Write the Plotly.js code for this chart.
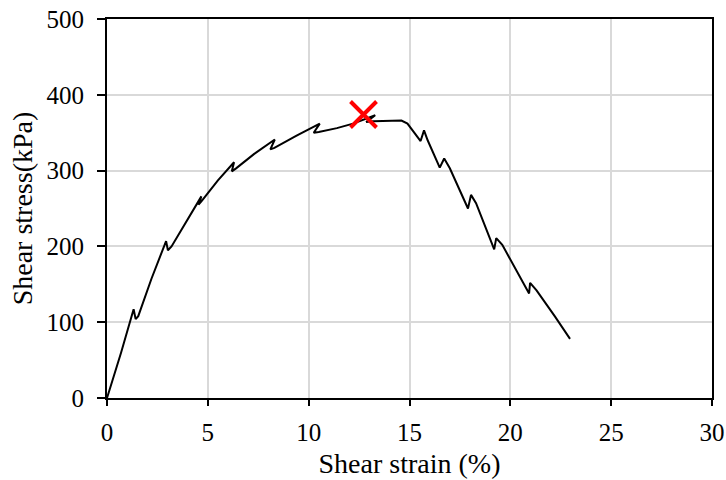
<!DOCTYPE html>
<html>
<head>
<meta charset="utf-8">
<script src="https://cdn.plot.ly/plotly-3.0.1.min.js"></script>
<style>html,body{margin:0;padding:0;background:#fff;}#chart{width:726px;height:480px;}</style>
</head>
<body>
<div id="chart"></div>
<script>
var strain = [0, 0.7, 1.32, 1.42, 1.55, 2.2, 2.93, 3.02, 3.2, 3.9, 4.68, 4.54, 4.7, 5.5, 6.3, 6.19, 6.4, 7.3, 8.32, 8.1, 8.3, 9.4, 10.55, 10.25, 10.5, 11.4, 12.2, 13.3, 12.85, 13.2, 14.0, 14.6, 14.9, 15.2, 15.55, 15.72, 15.9, 16.5, 16.72, 17.0, 17.9, 18.05, 18.3, 19.2, 19.3, 19.6, 20.93, 20.98, 21.3, 22.2, 22.96];
var stress = [0, 60, 117, 104, 108, 157, 207, 195, 200, 232, 266, 255, 260, 287, 311, 299, 303, 322, 341, 328, 330, 346, 362, 350, 351, 356, 362, 373, 364, 365, 366, 366, 362, 352, 339, 353, 340, 304, 316, 303, 250, 268, 257, 196, 211, 202, 138, 152, 142, 108, 78];
var peakStrain = [12.72];
var peakStress = [374];

var traces = [
  {x: strain, y: stress, type: 'scatter', mode: 'lines', line: {color: '#000', width: 2}, hoverinfo: 'skip'},
  {x: peakStrain, y: peakStress, type: 'scatter', mode: 'markers', marker: {symbol: 'x-thin', size: 26, line: {color: '#ff0000', width: 4}}}
];
var fontFam = '"Liberation Serif", "Times New Roman", serif';
var layout = {
  width: 726, height: 480,
  margin: {l: 107, r: 14, t: 19, b: 82},
  showlegend: false,
  paper_bgcolor: '#fff', plot_bgcolor: '#fff',
  font: {family: fontFam, color: '#000', size: 25},
  xaxis: {
    range: [0, 30], tickvals: [0, 5, 10, 15, 20, 25, 30], ticktext: ['0','5','10','15','20','25','30'],
    showgrid: true, gridcolor: '#d9d9d9', gridwidth: 2,
    showline: true, linecolor: '#000', linewidth: 2, mirror: true,
    ticks: 'outside', ticklen: 6, tickwidth: 2, tickcolor: '#000',
    ticklabelstandoff: 5,
    zeroline: false, tickfont: {family: fontFam, size: 25, color: '#000'},
    title: {text: 'Shear strain (%)', font: {family: fontFam, size: 28, color: '#000'}, standoff: 8}
  },
  yaxis: {
    range: [0, 500], tickvals: [0, 100, 200, 300, 400, 500], ticktext: ['0','100','200','300','400','500'],
    showgrid: true, gridcolor: '#d9d9d9', gridwidth: 2,
    showline: true, linecolor: '#000', linewidth: 2, mirror: true,
    ticks: 'outside', ticklen: 8, tickwidth: 2, tickcolor: '#000',
    ticklabelstandoff: 8,
    zeroline: false, tickfont: {family: fontFam, size: 25, color: '#000'},
    title: {text: 'Shear stress(kPa)', font: {family: fontFam, size: 28, color: '#000'}, standoff: 6}
  }
};
Plotly.newPlot('chart', traces, layout, {displayModeBar: false, staticPlot: true});
</script>
</body>
</html>
